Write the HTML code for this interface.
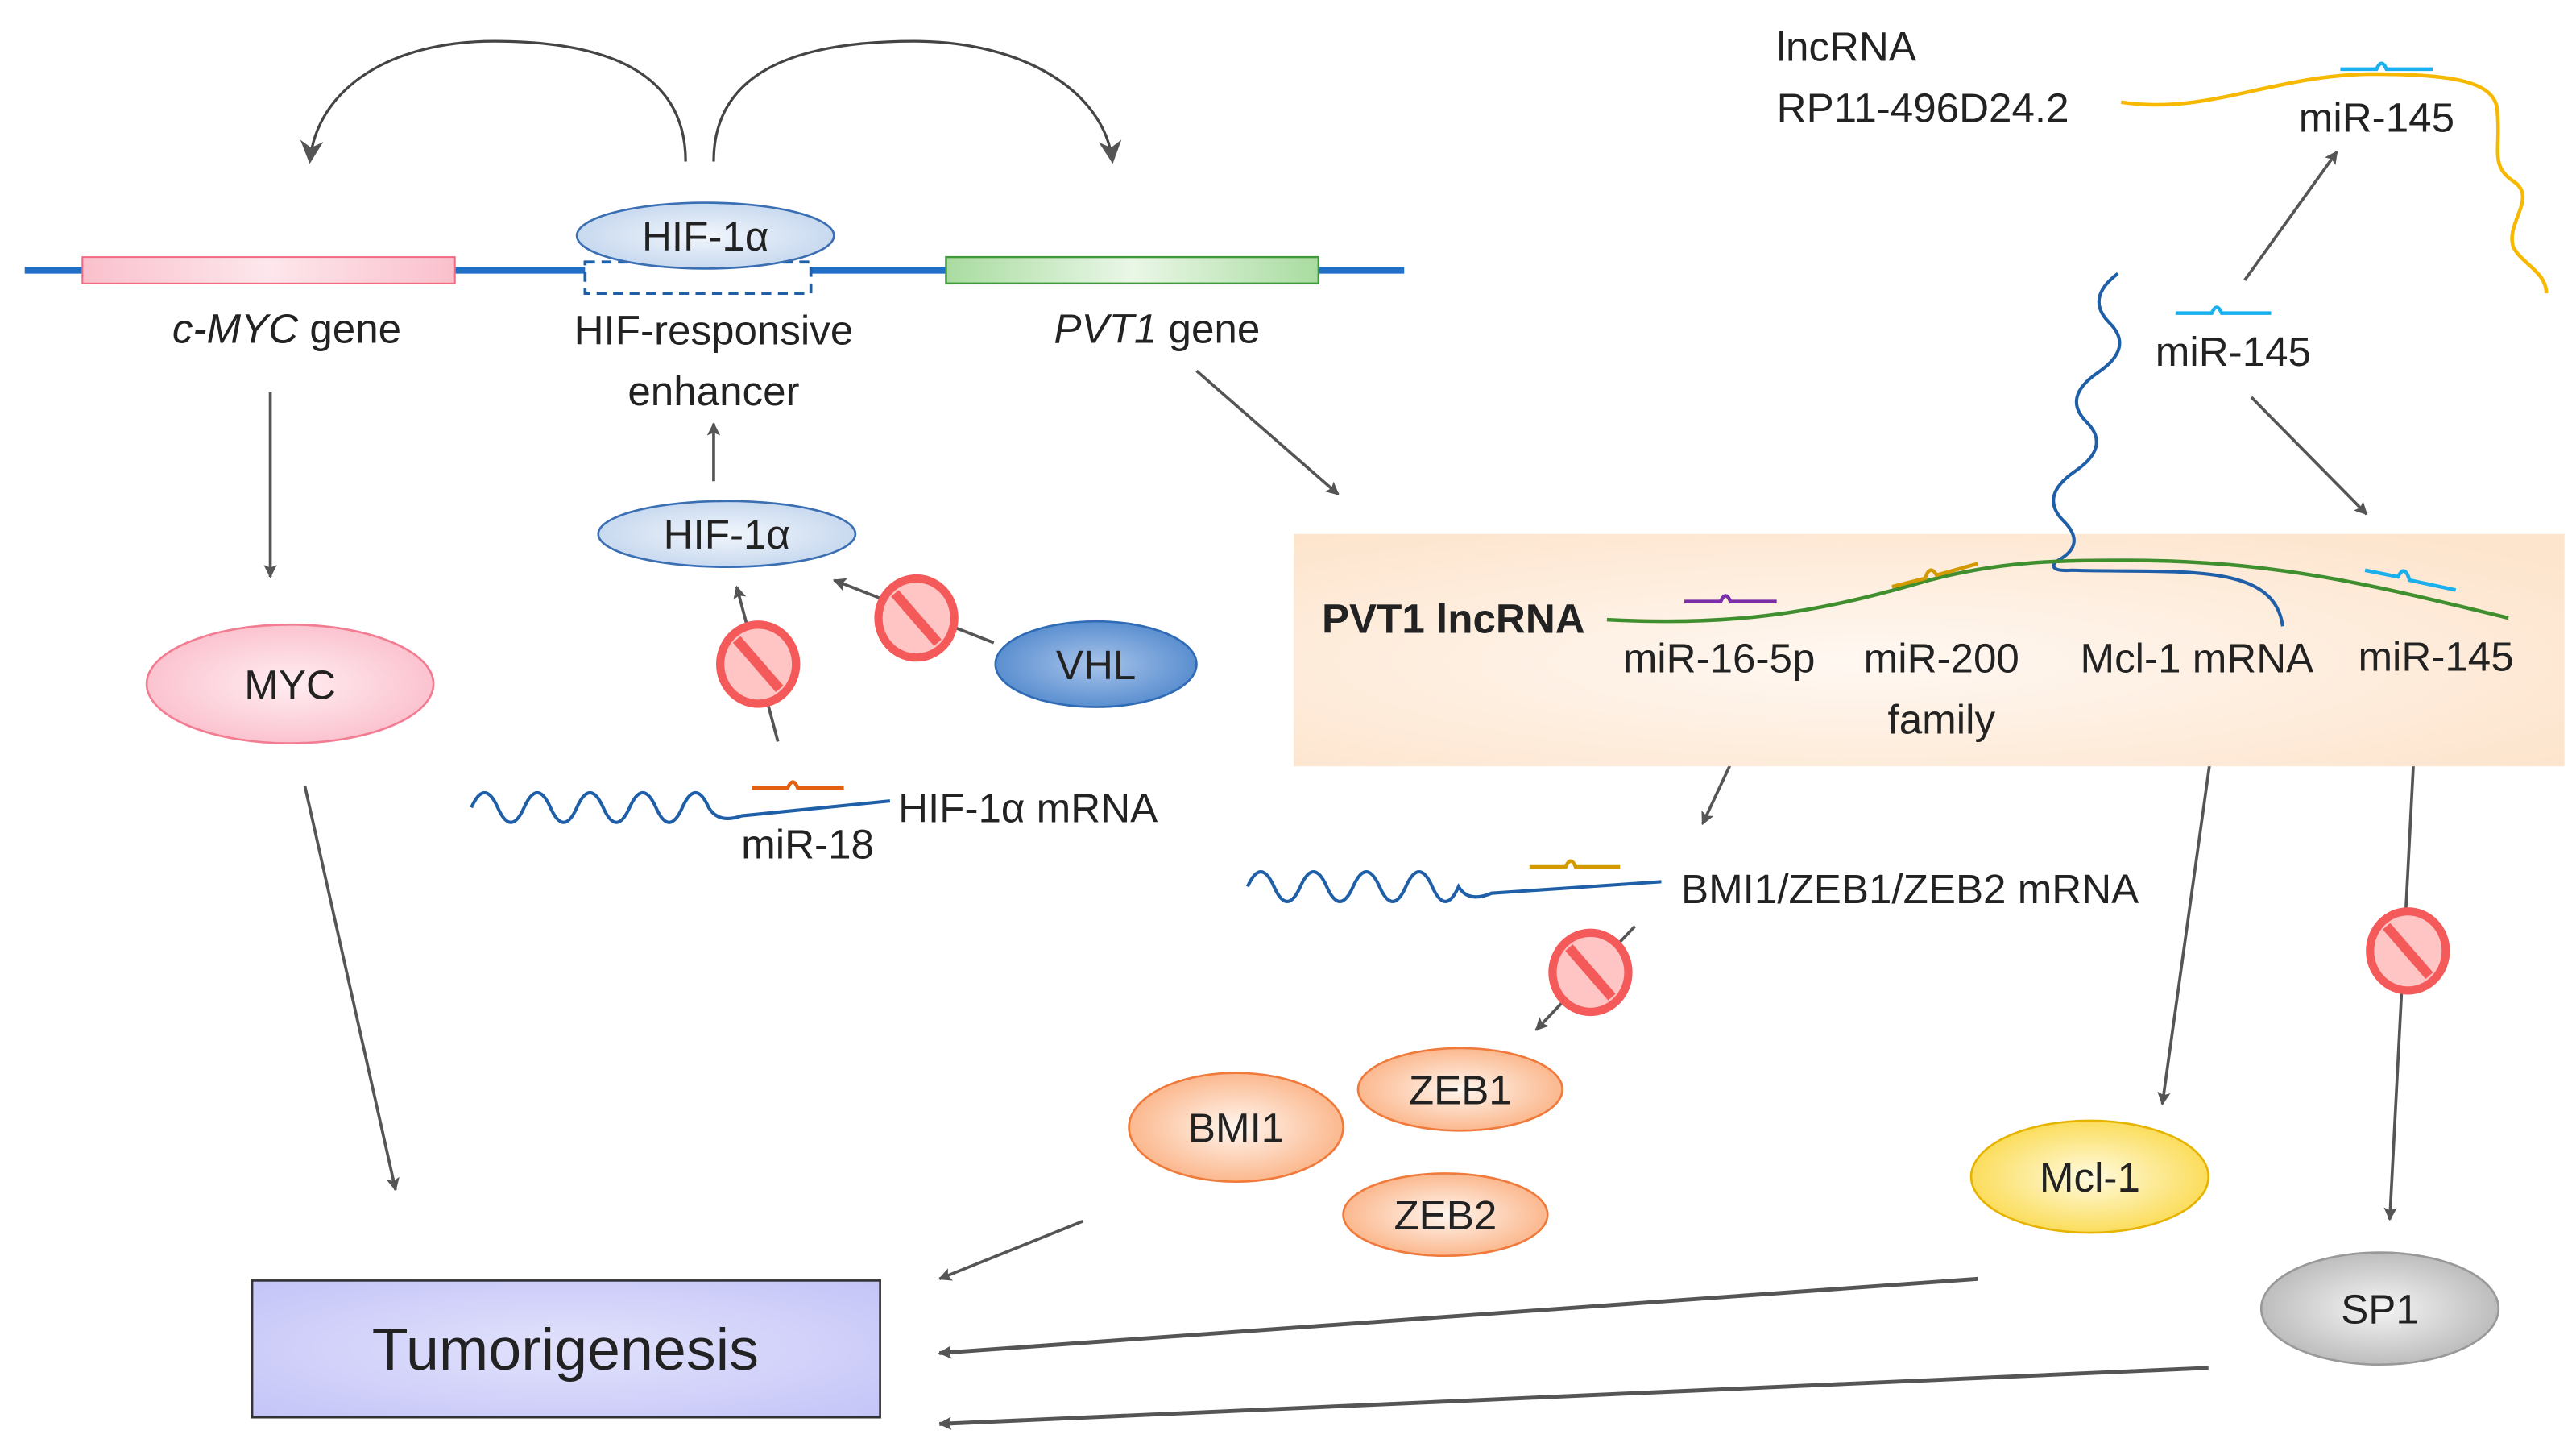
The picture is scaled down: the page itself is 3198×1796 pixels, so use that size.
<!DOCTYPE html>
<html><head><meta charset="utf-8"><style>
html,body{margin:0;padding:0;background:#fff;}
svg{display:block;}
text{font-family:"Liberation Sans Narrow","Liberation Sans",sans-serif;fill:#222;}
</style></head><body>
<svg width="3198" height="1796" viewBox="0 0 1563 878" preserveAspectRatio="none" xmlns="http://www.w3.org/2000/svg">
<defs>
<marker id="ah" viewBox="0 0 10 10" refX="9" refY="5" markerWidth="8" markerHeight="8" orient="auto-start-reverse" markerUnits="userSpaceOnUse"><path d="M0,0 L10,5 L0,10 L2,5 z" fill="#555"/></marker>
<marker id="ahb" viewBox="0 0 10 10" refX="9" refY="5" markerWidth="14" markerHeight="16" orient="auto" markerUnits="userSpaceOnUse"><path d="M0,0 L10,5 L0,10 L3,5 z" fill="#555"/></marker>
<radialGradient id="gPink"><stop offset="0" stop-color="#ffeef2"/><stop offset="1" stop-color="#fbc3cf"/></radialGradient>
<linearGradient id="gPinkR" x1="0" x2="1"><stop offset="0" stop-color="#fac0cc"/><stop offset=".5" stop-color="#fde7ec"/><stop offset="1" stop-color="#fac0cc"/></linearGradient>
<linearGradient id="gGreenR" x1="0" x2="1"><stop offset="0" stop-color="#a9dca0"/><stop offset=".5" stop-color="#eaf7e7"/><stop offset="1" stop-color="#a9dca0"/></linearGradient>
<radialGradient id="gBlueL"><stop offset="0" stop-color="#f2f6fc"/><stop offset="1" stop-color="#c8d9ef"/></radialGradient>
<radialGradient id="gVHL"><stop offset="0" stop-color="#a8c4ea"/><stop offset="1" stop-color="#5b8fd0"/></radialGradient>
<radialGradient id="gOr"><stop offset="0" stop-color="#fff6ef"/><stop offset="1" stop-color="#fbb88e"/></radialGradient>
<radialGradient id="gY"><stop offset="0" stop-color="#fffbe0"/><stop offset="1" stop-color="#fbdd5c"/></radialGradient>
<radialGradient id="gG"><stop offset="0" stop-color="#f5f5f5"/><stop offset="1" stop-color="#bdbdbd"/></radialGradient>
<radialGradient id="gBox" cx=".45" cy=".55" r=".7"><stop offset="0" stop-color="#fff8f2"/><stop offset="1" stop-color="#fde4cc"/></radialGradient>
<radialGradient id="gTum" r=".7"><stop offset="0" stop-color="#e2e2fc"/><stop offset="1" stop-color="#c4c4f8"/></radialGradient>
<g id="no"><ellipse cx="0" cy="0" rx="23" ry="24" fill="#ffc4c4" stroke="#f45a5a" stroke-width="5"/><line x1="-13" y1="-15" x2="13" y2="15" stroke="#f45a5a" stroke-width="6"/></g>
</defs>

<path d="M416,98 C416,45 370,25 300,25 C235,25 192,55 188,98" fill="none" stroke="#444" stroke-width="1.6" marker-end="url(#ahb)"/>
<path d="M433,98 C433,45 480,25 555,25 C620,25 670,55 675,98" fill="none" stroke="#444" stroke-width="1.6" marker-end="url(#ahb)"/>

<line x1="15" y1="164" x2="852" y2="164" stroke="#1f6fc5" stroke-width="4"/>
<rect x="50" y="156" width="226" height="16" fill="url(#gPinkR)" stroke="#f26b83" stroke-width="1"/>
<rect x="574" y="156" width="226" height="16" fill="url(#gGreenR)" stroke="#3f9a3a" stroke-width="1.2"/>
<rect x="355" y="159" width="137" height="19" fill="#fff" stroke="#1f5fa8" stroke-width="1.8" stroke-dasharray="6,4"/>
<ellipse cx="428" cy="143" rx="78" ry="20" fill="url(#gBlueL)" stroke="#3a6fb3" stroke-width="1.3"/>
<text x="428" y="152" font-size="25" text-anchor="middle">HIF-1α</text>

<text x="174" y="208" font-size="25" text-anchor="middle"><tspan font-style="italic">c-MYC</tspan> gene</text>
<text x="433" y="209" font-size="25" text-anchor="middle">HIF-responsive</text>
<text x="433" y="246" font-size="25" text-anchor="middle">enhancer</text>
<text x="702" y="208" font-size="25" text-anchor="middle"><tspan font-style="italic">PVT1</tspan> gene</text>

<g stroke="#555" stroke-width="1.8" fill="none" marker-end="url(#ah)">
<line x1="164" y1="238" x2="164" y2="350"/>
<line x1="433" y1="292" x2="433" y2="257"/>
<line x1="603" y1="390" x2="506" y2="352"/>
<line x1="472" y1="450" x2="447" y2="356"/>
<line x1="726" y1="225" x2="812" y2="300"/>
<line x1="1362" y1="170" x2="1418" y2="92"/>
<line x1="1366" y1="241" x2="1436" y2="312"/>
<line x1="1062" y1="438" x2="1033" y2="500"/>
<line x1="992" y1="562" x2="932" y2="625"/>
<line x1="1344" y1="440" x2="1312" y2="670"/>
<line x1="1466" y1="432" x2="1450" y2="740"/>
<line x1="185" y1="477" x2="240" y2="722"/>
<line x1="657" y1="741" x2="570" y2="776"/>
<line x1="1200" y1="776" x2="570" y2="821" stroke-width="2.4"/>
<line x1="1340" y1="830" x2="570" y2="864" stroke-width="2.4"/>
</g>

<ellipse cx="441" cy="324" rx="78" ry="20" fill="url(#gBlueL)" stroke="#3a6fb3" stroke-width="1.3"/>
<text x="441" y="333" font-size="25" text-anchor="middle">HIF-1α</text>
<ellipse cx="176" cy="415" rx="87" ry="36" fill="url(#gPink)" stroke="#f27d93" stroke-width="1.3"/>
<text x="176" y="424" font-size="25" text-anchor="middle">MYC</text>
<ellipse cx="665" cy="403" rx="61" ry="26" fill="url(#gVHL)" stroke="#2f6cb5" stroke-width="1.3"/>
<text x="665" y="412" font-size="25" text-anchor="middle">VHL</text>
<use href="#no" x="556" y="375"/>
<use href="#no" x="460" y="403"/>

<path d="M286,490 q8,-18 16,0 t16,0 t16,0 t16,0 t16,0 t16,0 t16,0 t16,0 t16,0 q6,10 20,5 L540,486" fill="none" stroke="#1f5fa8" stroke-width="2"/>
<path d="M456,478 h22 q3,-7 6,0 h28" fill="none" stroke="#e2600f" stroke-width="2.2"/>
<text x="545" y="499" font-size="25">HIF-1α mRNA</text>
<text x="490" y="521" font-size="25" text-anchor="middle">miR-18</text>

<rect x="785" y="324" width="771" height="141" fill="url(#gBox)"/>
<text x="802" y="384" font-size="25" font-weight="bold">PVT1 lncRNA</text>
<path d="M1287,62 C1340,70 1380,45 1440,45 C1490,45 1512,50 1515,65 C1518,90 1510,100 1525,110 C1540,120 1520,135 1525,150 C1530,160 1545,165 1545,178" fill="none" stroke="#f6b800" stroke-width="2.2"/>
<path d="M1285,166 q-20,15 -5,30 t-7,30 t-7,30 t-7,30 t-7,30 t-5,25 q-4,6 10,5 C1320,348 1380,340 1385,380" fill="none" stroke="#1f5fa8" stroke-width="2"/>
<path d="M975,376 C1050,380 1100,372 1160,355 C1210,340 1250,340 1290,340 C1380,340 1440,355 1522,375" fill="none" stroke="#3f8f2f" stroke-width="2.2"/>
<path d="M1022,365 h22 q3,-7 6,0 h28" fill="none" stroke="#7a2ea8" stroke-width="2.2"/>
<path d="M1148,356 l20,-5 q3,-9 7,-2 l25,-7" fill="none" stroke="#d39a00" stroke-width="2.2"/>
<path d="M1435,346 l20,4 q4,-8 7,2 l28,6" fill="none" stroke="#1ab0ee" stroke-width="2.2"/>
<path d="M1420,42 h22 q3,-7 6,0 h28" fill="none" stroke="#1ab0ee" stroke-width="2.2"/>
<path d="M1320,190 h22 q3,-7 6,0 h30" fill="none" stroke="#1ab0ee" stroke-width="2.2"/>
<text x="1043" y="408" font-size="25" text-anchor="middle">miR-16-5p</text>
<text x="1178" y="408" font-size="25" text-anchor="middle">miR-200</text>
<text x="1178" y="445" font-size="25" text-anchor="middle">family</text>
<text x="1333" y="408" font-size="25" text-anchor="middle">Mcl-1 mRNA</text>
<text x="1478" y="407" font-size="25" text-anchor="middle">miR-145</text>
<text x="1078" y="37" font-size="25">lncRNA</text>
<text x="1078" y="74" font-size="25">RP11-496D24.2</text>
<text x="1442" y="80" font-size="25" text-anchor="middle">miR-145</text>
<text x="1355" y="222" font-size="25" text-anchor="middle">miR-145</text>

<path d="M757,538 q8,-18 16,0 t16,0 t16,0 t16,0 t16,0 t16,0 t16,0 t16,0 q6,10 20,4 L1008,535" fill="none" stroke="#1f5fa8" stroke-width="2"/>
<path d="M928,526 h22 q3,-7 6,0 h27" fill="none" stroke="#d39a00" stroke-width="2.2"/>
<text x="1020" y="548" font-size="25">BMI1/ZEB1/ZEB2 mRNA</text>
<use href="#no" x="965" y="590"/>
<use href="#no" x="1461" y="577"/>

<ellipse cx="750" cy="684" rx="65" ry="33" fill="url(#gOr)" stroke="#f07a3c" stroke-width="1.3"/>
<text x="750" y="693" font-size="25" text-anchor="middle">BMI1</text>
<ellipse cx="886" cy="661" rx="62" ry="25" fill="url(#gOr)" stroke="#f07a3c" stroke-width="1.3"/>
<text x="886" y="670" font-size="25" text-anchor="middle">ZEB1</text>
<ellipse cx="877" cy="737" rx="62" ry="25" fill="url(#gOr)" stroke="#f07a3c" stroke-width="1.3"/>
<text x="877" y="746" font-size="25" text-anchor="middle">ZEB2</text>
<ellipse cx="1268" cy="714" rx="72" ry="34" fill="url(#gY)" stroke="#e6b400" stroke-width="1.3"/>
<text x="1268" y="723" font-size="25" text-anchor="middle">Mcl-1</text>
<ellipse cx="1444" cy="794" rx="72" ry="34" fill="url(#gG)" stroke="#999" stroke-width="1.3"/>
<text x="1444" y="803" font-size="25" text-anchor="middle">SP1</text>

<rect x="153" y="777" width="381" height="83" fill="url(#gTum)" stroke="#333" stroke-width="1.3"/>
<text x="343" y="831" font-size="36" text-anchor="middle">Tumorigenesis</text>
</svg>
</body></html>
